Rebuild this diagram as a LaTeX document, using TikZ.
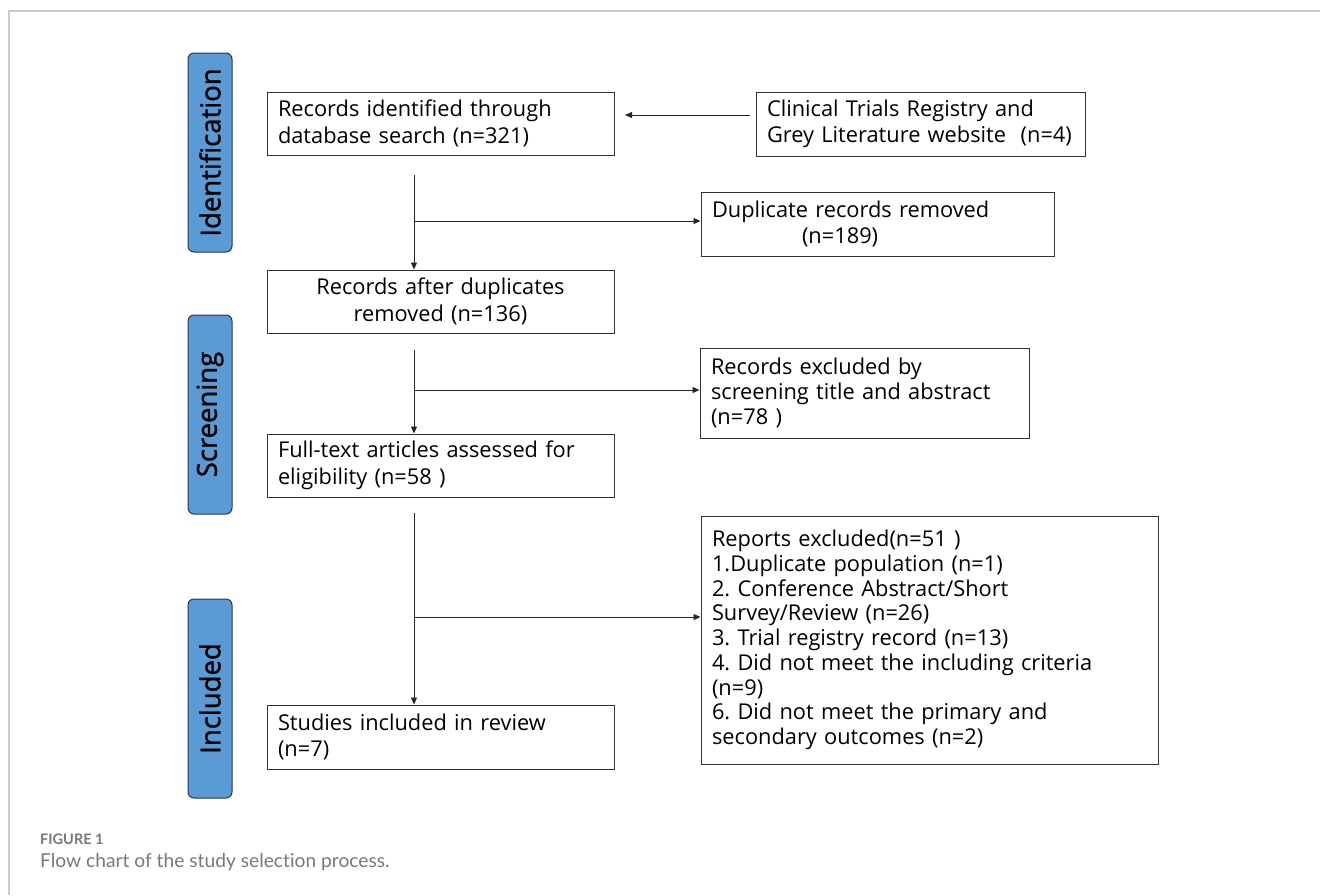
\documentclass[tikz,border=0pt]{standalone}
\usepackage{fontspec}
\setmainfont{Open Sans}
\newfontfamily\capfont[Ligatures=NoCommon]{Lato}
\newfontfamily\sidefont[BoldFont={Open Sans},BoldFeatures={FakeBold=1.2}]{Open Sans}
\usetikzlibrary{arrows.meta}
\definecolor{phase}{RGB}{91,155,213}
\definecolor{phaseline}{RGB}{40,52,80}
\definecolor{capgray}{RGB}{120,120,120}
\frenchspacing
\tikzset{>={Triangle[length=7pt,width=6pt]}}
\tikzset{
  stagebox/.style={
    draw=black!80, line width=1pt, align=left, inner xsep=11pt, inner ysep=3pt,
    font=\fontsize{21.8}{26.5}\selectfont},
  phasebox/.style={
    draw=phaseline, fill=phase, line width=1pt, rounded corners=6pt, rotate=90,
    minimum width=199pt, minimum height=44pt, inner sep=0pt,
    font=\sidefont\bfseries\fontsize{27.5}{30}\selectfont},
  flow/.style={->, draw=black!85, line width=0.8pt}}

\begin{document}
\begin{tikzpicture}[x=1pt,y=-1pt]
    \useasboundingbox (0,0) rectangle (1320,895);
    % frame of the figure
    \draw[black!20, line width=1.2pt] (1320,11) -- (9,11) -- (9,895);
    % phases
    \node[phasebox] (ident) at (210,152.5) {Identification};
    \node[phasebox] (screen) at (210,414.5) {Screening};
    \node[phasebox] (incl) at (210,698.5) {Included};
    % main column
    \node[stagebox, text width=325pt, minimum height=63pt] (found) at (440.5,123.5)
        {Records identified through\\database search (n=321)};
    \node[stagebox, text width=325pt, minimum height=63pt, align=center] (nodup) at (440.5,301.5)
        {Records after duplicates\\removed (n=136)};
    \node[stagebox, text width=325pt, minimum height=63pt] (fulltext) at (440.5,465.5)
        {Full-text articles assessed for\\eligibility (n=58 )};
    \node[stagebox, text width=325pt, minimum height=64pt] (studies) at (440.5,737)
        {Studies included in review\\(n=7)};
    % side column
    \node[stagebox, text width=307pt, minimum height=64pt] (registry) at (920.5,124)
        {Clinical Trials Registry and\\Grey Literature website~~(n=4)};
    \node[stagebox, text width=331pt, minimum height=64pt] (dups) at (877.5,224)
        {Duplicate records removed\\\hspace*{90pt}(n=189)};
    \node[stagebox, text width=307pt, minimum height=90pt, font=\fontsize{21.8}{24.8}\selectfont]
        (screenout) at (864.5,393)
        {Records excluded by\\screening title and abstract\\(n=78 )};
    \node[stagebox, text width=435pt, minimum height=248pt,
          font=\fontsize{21.8}{24.7}\selectfont] (reports) at (929.5,640)
        {Reports excluded(n=51 )\\
         1.Duplicate population (n=1)\\
         2. Conference Abstract/Short\\
         Survey/Review (n=26)\\
         3. Trial registry record (n=13)\\
         4. Did not meet the including criteria\\
         (n=9)\\
         6. Did not meet the primary and\\
         secondary outcomes (n=2)};
    % junctions
    \coordinate (top1) at (414,175);
    \coordinate (top2) at (414,350);
    \coordinate (top3) at (414,513);
    \coordinate (j1) at (414,221);
    \coordinate (j2) at (414,390);
    \coordinate (j3) at (414,617);
    \coordinate (reg) at (750,115);
    \draw[flow] (reg) -- (reg -| 625,0);
    \draw[flow] (top1) -- (top1 |- nodup.north);
    \draw[flow] (j1) -- (j1 -| dups.west);
    \draw[flow] (top2) -- (top2 |- fulltext.north);
    \draw[flow] (j2) -- (j2 -| screenout.west);
    \draw[flow] (top3) -- (top3 |- studies.north);
    \draw[flow] (j3) -- (j3 -| reports.west);
    % caption
    \node[anchor=base west, inner sep=0pt, text=capgray, font=\capfont\bfseries\fontsize{14.5}{16}\selectfont]
        (figno) at (40,844) {FIGURE 1};
    \node[anchor=base west, inner sep=0pt, text=capgray, font=\capfont\fontsize{19.2}{22}\selectfont]
        (figcap) at (40,867) {Flow chart of the study selection process.};
\end{tikzpicture}
\end{document}
